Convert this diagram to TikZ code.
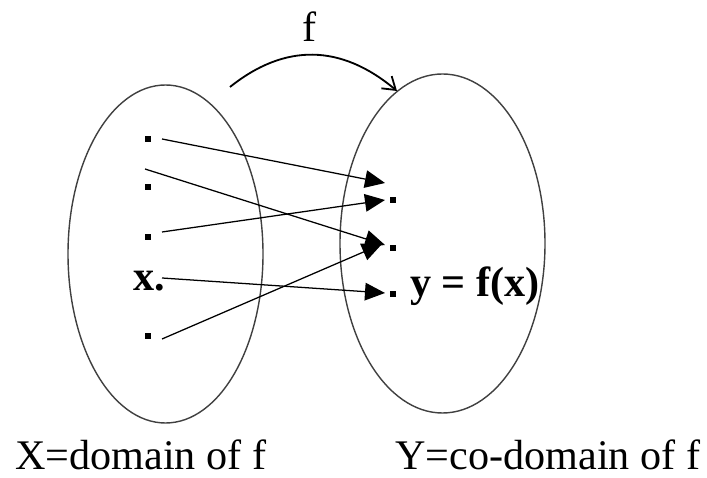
\documentclass[tikz,border=0pt]{standalone}
\usepackage{fontspec}
\setmainfont{Liberation Serif}
\usetikzlibrary{arrows.meta}

\tikzset{
  set/.style={draw=black!75, line width=1pt},
  pt/.style={fill, inner sep=0pt, minimum size=0.15cm},
  lbl/.style={inner sep=0pt, font=\fontsize{30}{36}\selectfont},
  maparrow/.style={line width=0.9pt, -{Triangle[length=0.5cm, width=0.44cm]}},
}

\begin{document}
\begin{tikzpicture}[line join=round]
  \useasboundingbox (0, 0) rectangle (17.675, 11.925);

  % Sets X and Y
  \draw[set] (4.1375, 5.575) ellipse [x radius=2.4375, y radius=4.225];
  \draw[set] (11.0625, 5.8375) ellipse [x radius=2.5625, y radius=4.2375];

  % Map f
  \coordinate (fa) at (5.75, 9.75);
  \coordinate (fb) at (9.925, 9.65);
  \draw[line width=1.3pt, -{Straight Barb[length=0.3cm, width=0.4cm]}]
    (fa) .. controls (7.125, 10.85) and (8.525, 10.825) .. (fb);
  \node[lbl, anchor=base] (f) at (7.75, 10.875) {f};

  % Points of X
  \node[pt] (d1) at (3.7, 8.45) {};
  \node[pt] (d2) at (3.7, 7.25) {};
  \node[pt] (d3) at (3.7, 6.0) {};
  \node[pt] (d4) at (3.7, 3.525) {};
  \node[lbl, anchor=base west] (x) at (3.325, 4.65) {\textbf{x.}};

  % Points of Y
  \node[pt] (r1) at (9.825, 6.925) {};
  \node[pt] (r2) at (9.825, 5.725) {};
  \node[pt] (r3) at (9.825, 4.575) {};
  \node[lbl, anchor=base west] (y) at (10.25, 4.5) {\textbf{y = f(x)}};

  % Arrows
  \coordinate (s1) at (4.05, 8.45);   \coordinate (t1) at (9.625, 7.35);
  \coordinate (s2) at (3.625, 7.7);   \coordinate (t2) at (9.625, 5.8);
  \coordinate (s3) at (4.05, 6.125);  \coordinate (t3) at (9.625, 6.925);
  \coordinate (s4) at (4.05, 3.45);   \coordinate (t4) at (9.55, 5.825);
  \coordinate (s5) at (4.05, 4.975);  \coordinate (t5) at (9.625, 4.6);
  \foreach \i in {1,...,5}
    \draw[maparrow] (s\i) -- (t\i);

  % Names
  \node[lbl, anchor=base west] (xname) at (0.375, 0.2) {X=domain of f};
  \node[lbl, anchor=base west] (yname) at (9.875, 0.2) {Y=co-domain of f};
\end{tikzpicture}
\end{document}
